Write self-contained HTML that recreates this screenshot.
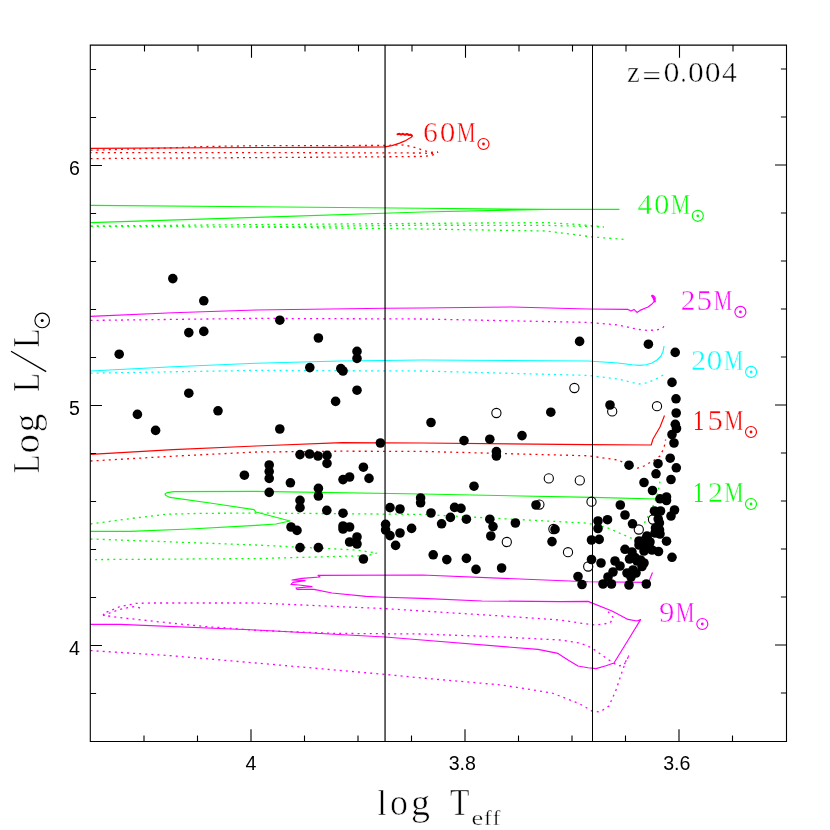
<!DOCTYPE html><html><head><meta charset="utf-8"><title>HR diagram z=0.004</title>
<style>html,body{margin:0;padding:0;background:#fff}svg{display:block;will-change:transform}text{font-family:"Liberation Serif",serif}.ss{font-family:"Liberation Sans",sans-serif}</style></head><body>
<svg width="830" height="830" viewBox="0 0 830 830">
<rect width="830" height="830" fill="#fff"/>
<g fill="none" stroke-width="1.15" stroke-linejoin="round">
<path stroke="#ff0000" d="M90.5 148.4 L256.0 147.5 L340.0 147.4 L385.0 146.9 L392.0 145.6 L399.6 143.1 L405.0 140.9 L409.0 138.5 L411.4 137.2 L412.3 136.2 L411.6 135.2 L410.0 134.6"/>
<path stroke="#00ff00" d="M90.5 205.4 L256.0 206.8 L422.0 208.2 L546.0 209.4 L619.0 209.4 L546.0 209.4 L422.0 212.0 L256.0 217.4 L90.5 222.6"/>
<path stroke="#ff00ff" d="M90.5 316.4 L173.0 312.8 L256.0 310.0 L385.0 308.2 L422.0 308.0 L512.0 307.0 L588.0 309.0 L628.0 309.4 L631.0 311.0 L634.0 309.4 L637.0 312.4 L640.0 310.4 L648.0 307.0 L652.0 304.0 L654.5 301.0 L655.3 298.0 L654.0 296.0 L652.0 295.4 L653.2 297.5 L654.4 300.0 L653.4 298.6 L652.4 296.2"/>
<path stroke="#00ffff" d="M90.5 371.0 L173.0 366.8 L256.0 363.2 L340.0 361.0 L422.0 360.0 L588.0 361.0 L618.0 363.0 L632.0 364.8 L640.0 365.4 L646.0 364.8 L652.0 363.0 L657.0 360.0 L661.0 356.0 L663.2 351.0 L664.0 346.0"/>
<path stroke="#ff0000" d="M90.5 454.4 L173.0 449.6 L256.0 446.0 L342.0 442.6 L422.0 443.0 L588.0 444.6 L651.2 445.0 L653.0 439.0 L660.0 427.0 L664.5 415.5"/>
<path stroke="#00ff00" d="M90.5 531.4 L130.0 531.4 L190.0 529.0 L256.0 525.4 L276.0 524.0 L290.0 521.0 L256.0 512.0 L254.0 509.6 L210.0 503.0 L170.0 497.4 L166.0 495.6 L165.0 494.0 L167.0 492.6 L174.0 491.6 L256.0 491.4 L422.0 494.0 L593.0 497.4 L656.0 499.0"/>
<path stroke="#ff00ff" d="M90.5 624.4 L120.0 624.4 L256.0 630.0 L385.0 637.0 L422.0 640.0 L538.0 649.4 L558.0 653.4 L568.0 660.0 L578.0 666.0 L588.0 667.8 L596.0 668.6 L606.0 665.8 L614.0 663.0 L630.0 637.0 L640.6 619.6 L637.0 621.0 L628.0 619.4 L612.0 611.0 L588.0 601.4 L560.0 601.6 L482.0 601.0 L422.0 598.4 L385.0 597.2 L366.0 596.4 L332.0 593.0 L314.0 589.4 L297.0 589.4 L296.0 588.0 L312.0 586.6 L299.0 585.0 L291.0 584.4 L293.0 582.4 L305.0 580.6 L292.0 580.0 L302.0 578.4 L320.0 577.0 L318.0 575.4 L422.0 575.0 L588.0 581.8 L648.5 582.4 L652.5 572.5"/>
</g>
<path fill="none" stroke="#ff0000" stroke-width="2.0" stroke-linejoin="round" stroke-linecap="round" d="M397.5 134.2 L399.5 133.8 L401.0 134.6 L403.0 133.8 L405.0 134.8 L407.0 134.0 L409.0 135.0 L410.5 134.6 L411.8 135.6"/>
<path fill="none" stroke="#ff00ff" stroke-width="2.2" stroke-linejoin="round" stroke-linecap="round" d="M652.3 296.0 L653.8 298.0 L654.8 301.5"/>
<g fill="none" stroke-width="1.3" stroke-dasharray="2 4.1">
<path stroke="#ff0000" d="M90.5 150.2 L150.0 148.6 L210.0 146.4 L268.0 145.6 L385.0 145.5 L401.0 144.7 L411.6 146.4 L430.0 152.4 L438.0 152.0 L432.8 153.6 L422.0 153.0 L256.0 152.6 L90.5 152.6"/>
<path stroke="#ff0000" d="M90.5 158.6 L256.0 157.6 L385.0 156.8 L424.8 156.4 L435.4 154.4 L438.0 152.0"/>
<path stroke="#00ff00" d="M90.5 226.0 L256.0 224.6 L422.0 223.4 L546.0 222.6 L580.0 224.6 L604.0 227.0 L580.0 226.2 L546.0 225.4 L422.0 225.2 L256.0 227.0 L90.5 226.4"/>
<path stroke="#00ff00" d="M256.0 227.0 L385.0 228.6 L422.0 229.0 L546.0 231.0 L593.0 237.0 L627.0 239.6"/>
<path stroke="#ff00ff" d="M90.5 320.4 L256.0 318.4 L422.0 319.0 L588.0 322.4 L618.0 325.0 L638.0 329.4 L648.0 330.4 L656.0 330.0 L661.0 329.0 L663.5 327.0 L664.2 324.4"/>
<path stroke="#00ffff" d="M90.5 373.2 L256.0 370.4 L422.0 371.0 L588.0 375.4 L618.0 379.0 L632.0 382.6 L640.0 384.0 L647.0 382.8 L654.0 380.0 L660.0 377.0 L663.0 375.0 L664.0 373.0"/>
<path stroke="#ff0000" d="M90.5 461.0 L173.0 456.2 L256.0 452.0 L342.0 451.2 L422.0 451.4 L588.0 455.8 L618.0 460.0 L630.0 465.2 L637.0 468.4 L644.0 466.0 L650.0 462.5 L656.0 459.0 L660.0 456.0 L664.0 448.0 L665.6 439.5"/>
<path stroke="#00ff00" d="M90.5 524.0 L130.0 518.6 L166.0 514.2 L200.0 513.4 L256.0 513.0 L422.0 514.4 L588.0 523.2 L608.0 528.0 L633.0 539.0"/>
<path stroke="#00ff00" d="M644.3 523.0 L646.0 520.5 L650.0 512.0 L655.0 502.0 L658.0 492.0 L660.0 481.5"/>
<path stroke="#00ff00" d="M90.5 539.0 L256.0 545.0 L356.0 550.0 L377.0 553.0 L368.0 555.6 L256.0 558.6 L90.5 559.6"/>
<path stroke="#ff00ff" d="M608.0 611.6 L613.6 618.0 L610.0 623.0 L596.0 625.0 L580.0 623.0 L560.0 620.0 L502.0 616.0 L422.0 611.0 L385.0 608.6 L256.0 603.0 L150.0 603.0 L136.0 603.4 L120.0 606.6 L103.0 613.6 L104.0 615.4 L120.0 617.6 L170.0 623.0 L210.0 627.0 L226.0 627.8 L256.0 630.4 L336.0 633.4 L422.0 634.0 L502.0 637.0 L560.0 640.0 L580.0 643.0 L592.0 648.0 L606.0 658.0 L618.0 666.0 L624.0 665.0 L629.0 655.6"/>
<path stroke="#ff00ff" d="M103.0 615.6 L112.0 612.2 L120.0 609.4 L128.0 607.6 L135.0 606.6 L140.0 608.0"/>
<path stroke="#ff00ff" d="M90.5 650.6 L170.0 655.6 L256.0 663.0 L385.0 674.4 L422.0 678.0 L502.0 685.0 L552.0 693.0 L580.0 704.0 L592.0 711.0 L600.0 712.0 L609.0 706.0 L616.0 690.0 L622.0 672.0 L627.0 658.0 L629.0 655.6"/>
</g>
<g stroke="#000" stroke-width="1.2">
<line x1="385.05" y1="45" x2="385.05" y2="741.5"/><line x1="592.5" y1="45" x2="592.5" y2="741.5" stroke-width="1"/>
</g>
<g stroke="#000" stroke-width="1.1" fill="none">
<path d="M90.3 44.6V742M786.5 44.6V742M89.8 45.1H787M89.8 741.5H787"/>
<path d="M144.0 741.5v-6.0M144.5 45.0v6.4M197.5 741.5v-6.0M198.0 45.0v6.4M251.0 741.5v-12.3M251.5 45.0v12.7M304.5 741.5v-6.0M305.0 45.0v6.4M358.0 741.5v-6.0M358.5 45.0v6.4M411.5 741.5v-6.0M412.0 45.0v6.4M465.0 741.5v-12.3M465.5 45.0v12.7M518.5 741.5v-6.0M519.0 45.0v6.4M572.0 741.5v-6.0M572.5 45.0v6.4M625.5 741.5v-6.0M626.0 45.0v6.4M679.0 741.5v-12.3M679.5 45.0v12.7M732.5 741.5v-6.0M733.0 45.0v6.4M90.5 69.5h5.6M786.5 69.0h-5.6M90.5 117.5h5.6M786.5 117.0h-5.6M90.5 165.5h11.5M786.5 165.0h-11.5M90.5 213.5h5.6M786.5 213.0h-5.6M90.5 261.5h5.6M786.5 261.0h-5.6M90.5 309.5h5.6M786.5 309.0h-5.6M90.5 357.5h5.6M786.5 357.0h-5.6M90.5 405.5h11.5M786.5 405.0h-11.5M90.5 453.5h5.6M786.5 453.0h-5.6M90.5 501.5h5.6M786.5 501.0h-5.6M90.5 549.5h5.6M786.5 549.0h-5.6M90.5 597.5h5.6M786.5 597.0h-5.6M90.5 645.5h11.5M786.5 645.0h-11.5M90.5 693.5h5.6M786.5 693.0h-5.6"/>
</g>
<g fill="none" stroke="#000" stroke-width="1.1">
<circle cx="574.4" cy="388.0" r="4.6"/>
<circle cx="496.4" cy="413.0" r="4.6"/>
<circle cx="612.2" cy="411.4" r="4.6"/>
<circle cx="657.0" cy="406.2" r="4.6"/>
<circle cx="548.8" cy="478.4" r="4.6"/>
<circle cx="579.8" cy="480.4" r="4.6"/>
<circle cx="539.4" cy="504.6" r="4.6"/>
<circle cx="553.4" cy="529.0" r="4.6"/>
<circle cx="506.8" cy="542.0" r="4.6"/>
<circle cx="568.0" cy="552.2" r="4.6"/>
<circle cx="588.2" cy="566.5" r="4.6"/>
<circle cx="591.5" cy="501.7" r="4.6"/>
<circle cx="638.8" cy="529.5" r="4.6"/>
<circle cx="653.0" cy="519.5" r="4.6"/>
</g>
<g fill="#000">
<circle cx="172.8" cy="278.6" r="4.8"/>
<circle cx="203.8" cy="300.8" r="4.8"/>
<circle cx="188.8" cy="332.6" r="4.8"/>
<circle cx="203.8" cy="331.4" r="4.8"/>
<circle cx="119.2" cy="354.2" r="4.8"/>
<circle cx="188.8" cy="393.2" r="4.8"/>
<circle cx="137.4" cy="414.4" r="4.8"/>
<circle cx="218.0" cy="410.8" r="4.8"/>
<circle cx="155.6" cy="430.4" r="4.8"/>
<circle cx="279.8" cy="320.2" r="4.8"/>
<circle cx="318.4" cy="338.0" r="4.8"/>
<circle cx="357.0" cy="351.4" r="4.8"/>
<circle cx="357.0" cy="358.4" r="4.8"/>
<circle cx="309.8" cy="367.6" r="4.8"/>
<circle cx="340.8" cy="368.6" r="4.8"/>
<circle cx="343.0" cy="371.0" r="4.8"/>
<circle cx="357.0" cy="390.2" r="4.8"/>
<circle cx="335.6" cy="401.4" r="4.8"/>
<circle cx="279.8" cy="429.0" r="4.8"/>
<circle cx="579.6" cy="341.4" r="4.8"/>
<circle cx="550.8" cy="412.2" r="4.8"/>
<circle cx="431.0" cy="422.5" r="4.8"/>
<circle cx="648.4" cy="344.2" r="4.8"/>
<circle cx="675.2" cy="352.4" r="4.8"/>
<circle cx="672.0" cy="382.4" r="4.8"/>
<circle cx="676.0" cy="398.8" r="4.8"/>
<circle cx="676.2" cy="413.0" r="4.8"/>
<circle cx="610.0" cy="405.0" r="4.8"/>
<circle cx="244.4" cy="475.2" r="4.8"/>
<circle cx="380.4" cy="443.0" r="4.8"/>
<circle cx="300.0" cy="454.6" r="4.8"/>
<circle cx="309.6" cy="454.0" r="4.8"/>
<circle cx="318.0" cy="456.0" r="4.8"/>
<circle cx="327.0" cy="455.4" r="4.8"/>
<circle cx="327.0" cy="463.4" r="4.8"/>
<circle cx="269.2" cy="465.0" r="4.8"/>
<circle cx="269.2" cy="471.6" r="4.8"/>
<circle cx="269.2" cy="478.4" r="4.8"/>
<circle cx="269.2" cy="492.4" r="4.8"/>
<circle cx="290.4" cy="482.8" r="4.8"/>
<circle cx="318.4" cy="488.4" r="4.8"/>
<circle cx="318.4" cy="496.0" r="4.8"/>
<circle cx="363.4" cy="467.2" r="4.8"/>
<circle cx="369.0" cy="478.4" r="4.8"/>
<circle cx="343.0" cy="479.6" r="4.8"/>
<circle cx="349.6" cy="477.0" r="4.8"/>
<circle cx="300.0" cy="500.4" r="4.8"/>
<circle cx="300.0" cy="507.6" r="4.8"/>
<circle cx="326.8" cy="510.4" r="4.8"/>
<circle cx="343.0" cy="513.2" r="4.8"/>
<circle cx="291.0" cy="527.0" r="4.8"/>
<circle cx="297.0" cy="530.4" r="4.8"/>
<circle cx="343.0" cy="526.0" r="4.8"/>
<circle cx="343.0" cy="529.0" r="4.8"/>
<circle cx="349.6" cy="527.0" r="4.8"/>
<circle cx="357.0" cy="537.0" r="4.8"/>
<circle cx="349.6" cy="542.0" r="4.8"/>
<circle cx="357.0" cy="544.0" r="4.8"/>
<circle cx="300.0" cy="547.6" r="4.8"/>
<circle cx="318.4" cy="547.6" r="4.8"/>
<circle cx="363.4" cy="559.0" r="4.8"/>
<circle cx="390.0" cy="507.6" r="4.8"/>
<circle cx="400.0" cy="509.0" r="4.8"/>
<circle cx="420.6" cy="498.0" r="4.8"/>
<circle cx="420.6" cy="502.8" r="4.8"/>
<circle cx="385.6" cy="524.4" r="4.8"/>
<circle cx="385.6" cy="530.0" r="4.8"/>
<circle cx="390.0" cy="535.6" r="4.8"/>
<circle cx="400.0" cy="533.0" r="4.8"/>
<circle cx="411.6" cy="528.4" r="4.8"/>
<circle cx="395.6" cy="545.4" r="4.8"/>
<circle cx="464.0" cy="440.6" r="4.8"/>
<circle cx="489.8" cy="439.2" r="4.8"/>
<circle cx="522.0" cy="435.6" r="4.8"/>
<circle cx="496.4" cy="451.6" r="4.8"/>
<circle cx="496.4" cy="456.0" r="4.8"/>
<circle cx="474.0" cy="486.2" r="4.8"/>
<circle cx="454.6" cy="507.4" r="4.8"/>
<circle cx="461.0" cy="508.4" r="4.8"/>
<circle cx="431.0" cy="513.0" r="4.8"/>
<circle cx="450.4" cy="517.4" r="4.8"/>
<circle cx="441.6" cy="523.8" r="4.8"/>
<circle cx="466.4" cy="519.2" r="4.8"/>
<circle cx="489.8" cy="519.2" r="4.8"/>
<circle cx="493.0" cy="526.6" r="4.8"/>
<circle cx="490.8" cy="536.0" r="4.8"/>
<circle cx="515.4" cy="523.0" r="4.8"/>
<circle cx="536.0" cy="505.0" r="4.8"/>
<circle cx="555.0" cy="529.4" r="4.8"/>
<circle cx="552.0" cy="541.6" r="4.8"/>
<circle cx="433.2" cy="554.8" r="4.8"/>
<circle cx="446.8" cy="559.6" r="4.8"/>
<circle cx="466.4" cy="558.4" r="4.8"/>
<circle cx="476.0" cy="569.4" r="4.8"/>
<circle cx="501.6" cy="568.0" r="4.8"/>
<circle cx="675.3" cy="424.3" r="4.8"/>
<circle cx="676.5" cy="428.5" r="4.8"/>
<circle cx="672.0" cy="434.5" r="4.8"/>
<circle cx="674.0" cy="443.0" r="4.8"/>
<circle cx="670.2" cy="458.2" r="4.8"/>
<circle cx="676.3" cy="467.8" r="4.8"/>
<circle cx="658.0" cy="463.7" r="4.8"/>
<circle cx="629.0" cy="465.2" r="4.8"/>
<circle cx="656.0" cy="473.8" r="4.8"/>
<circle cx="671.0" cy="479.5" r="4.8"/>
<circle cx="644.0" cy="482.5" r="4.8"/>
<circle cx="652.5" cy="490.5" r="4.8"/>
<circle cx="660.0" cy="498.8" r="4.8"/>
<circle cx="666.5" cy="497.0" r="4.8"/>
<circle cx="666.5" cy="500.5" r="4.8"/>
<circle cx="620.3" cy="505.0" r="4.8"/>
<circle cx="625.0" cy="515.0" r="4.8"/>
<circle cx="632.5" cy="523.8" r="4.8"/>
<circle cx="674.5" cy="510.0" r="4.8"/>
<circle cx="671.0" cy="516.0" r="4.8"/>
<circle cx="654.5" cy="511.0" r="4.8"/>
<circle cx="660.5" cy="511.0" r="4.8"/>
<circle cx="658.2" cy="519.0" r="4.8"/>
<circle cx="659.4" cy="523.0" r="4.8"/>
<circle cx="655.5" cy="528.0" r="4.8"/>
<circle cx="659.5" cy="530.0" r="4.8"/>
<circle cx="660.0" cy="534.0" r="4.8"/>
<circle cx="655.0" cy="533.0" r="4.8"/>
<circle cx="647.0" cy="536.0" r="4.8"/>
<circle cx="666.5" cy="541.2" r="4.8"/>
<circle cx="639.0" cy="541.0" r="4.8"/>
<circle cx="645.0" cy="540.0" r="4.8"/>
<circle cx="650.0" cy="542.0" r="4.8"/>
<circle cx="639.0" cy="545.0" r="4.8"/>
<circle cx="647.0" cy="547.0" r="4.8"/>
<circle cx="644.0" cy="551.0" r="4.8"/>
<circle cx="652.0" cy="550.0" r="4.8"/>
<circle cx="658.5" cy="551.5" r="4.8"/>
<circle cx="625.0" cy="549.3" r="4.8"/>
<circle cx="632.0" cy="552.0" r="4.8"/>
<circle cx="672.0" cy="557.3" r="4.8"/>
<circle cx="591.5" cy="540.0" r="4.8"/>
<circle cx="599.2" cy="539.4" r="4.8"/>
<circle cx="598.0" cy="528.5" r="4.8"/>
<circle cx="598.0" cy="521.0" r="4.8"/>
<circle cx="607.5" cy="519.7" r="4.8"/>
<circle cx="591.5" cy="559.5" r="4.8"/>
<circle cx="601.0" cy="563.0" r="4.8"/>
<circle cx="578.0" cy="576.5" r="4.8"/>
<circle cx="582.0" cy="584.5" r="4.8"/>
<circle cx="603.0" cy="584.0" r="4.8"/>
<circle cx="611.5" cy="584.0" r="4.8"/>
<circle cx="608.0" cy="577.0" r="4.8"/>
<circle cx="613.0" cy="572.0" r="4.8"/>
<circle cx="615.0" cy="561.0" r="4.8"/>
<circle cx="620.0" cy="566.0" r="4.8"/>
<circle cx="635.0" cy="557.5" r="4.8"/>
<circle cx="640.5" cy="560.0" r="4.8"/>
<circle cx="642.0" cy="566.5" r="4.8"/>
<circle cx="629.5" cy="559.0" r="4.8"/>
<circle cx="629.0" cy="585.0" r="4.8"/>
<circle cx="646.3" cy="584.0" r="4.8"/>
<circle cx="627.0" cy="573.0" r="4.8"/>
<circle cx="631.0" cy="577.0" r="4.8"/>
<circle cx="636.0" cy="573.0" r="4.8"/>
<circle cx="633.0" cy="570.0" r="4.8"/>
<circle cx="637.0" cy="561.0" r="4.8"/>
<circle cx="644.0" cy="563.0" r="4.8"/>
<circle cx="640.0" cy="543.0" r="4.8"/>
<circle cx="647.0" cy="537.5" r="4.8"/>
<circle cx="649.0" cy="544.0" r="4.8"/>
</g>
<g class="ss" font-size="19.6" fill="#000">
<text class="ss" x="79.9" y="174.6" text-anchor="end">6</text>
<text class="ss" x="79.9" y="414.6" text-anchor="end">5</text>
<text class="ss" x="79.9" y="654.5" text-anchor="end">4</text>
<text class="ss" x="251" y="770.4" text-anchor="middle">4</text>
<text class="ss" x="462.3" y="770.4" text-anchor="middle">3.8</text>
<text class="ss" x="676.8" y="770.4" text-anchor="middle">3.6</text>
</g>
<text transform="translate(423.07 142.00) scale(1.042 1.000)" font-size="28.6" fill="#ff0000" stroke="#fff" stroke-width="0.46">6</text>
<text transform="translate(439.82 142.00) scale(1.095 1.000)" font-size="28.6" fill="#ff0000" stroke="#fff" stroke-width="0.46">0</text>
<text transform="translate(456.67 142.00) scale(0.740 1.000)" font-size="28.6" fill="#ff0000" stroke="#fff" stroke-width="0.46">M</text>
<circle cx="483.5" cy="144.0" r="5.5" fill="none" stroke="#ff0000" stroke-width="1.15"/><circle cx="483.5" cy="144.0" r="1.4" fill="#ff0000"/>
<text transform="translate(637.54 213.80) scale(1.029 1.000)" font-size="28.6" fill="#00ff00" stroke="#fff" stroke-width="0.46">4</text>
<text transform="translate(654.04 213.80) scale(1.079 1.000)" font-size="28.6" fill="#00ff00" stroke="#fff" stroke-width="0.46">0</text>
<text transform="translate(670.86 213.80) scale(0.765 1.000)" font-size="28.6" fill="#00ff00" stroke="#fff" stroke-width="0.46">M</text>
<circle cx="697.8" cy="215.8" r="5.5" fill="none" stroke="#00ff00" stroke-width="1.15"/><circle cx="697.8" cy="215.8" r="1.4" fill="#00ff00"/>
<text transform="translate(680.68 309.50) scale(1.028 1.000)" font-size="28.6" fill="#ff00ff" stroke="#fff" stroke-width="0.46">2</text>
<text transform="translate(696.43 309.50) scale(1.094 1.000)" font-size="28.6" fill="#ff00ff" stroke="#fff" stroke-width="0.46">5</text>
<text transform="translate(713.87 309.50) scale(0.732 1.000)" font-size="28.6" fill="#ff00ff" stroke="#fff" stroke-width="0.46">M</text>
<circle cx="740.4" cy="311.9" r="5.5" fill="none" stroke="#ff00ff" stroke-width="1.15"/><circle cx="740.4" cy="311.9" r="1.4" fill="#ff00ff"/>
<text transform="translate(690.97 369.80) scale(1.044 1.000)" font-size="28.6" fill="#00ffff" stroke="#fff" stroke-width="0.46">2</text>
<text transform="translate(706.51 369.80) scale(1.111 1.000)" font-size="28.6" fill="#00ffff" stroke="#fff" stroke-width="0.46">0</text>
<text transform="translate(724.06 369.80) scale(0.761 1.000)" font-size="28.6" fill="#00ffff" stroke="#fff" stroke-width="0.46">M</text>
<circle cx="751.1" cy="371.9" r="5.5" fill="none" stroke="#00ffff" stroke-width="1.15"/><circle cx="751.1" cy="371.9" r="1.4" fill="#00ffff"/>
<text transform="translate(692.97 430.00) scale(0.774 1.000)" font-size="28.6" fill="#ff0000" stroke="#fff" stroke-width="0.00">1</text>
<text transform="translate(707.56 430.00) scale(1.077 1.000)" font-size="28.6" fill="#ff0000" stroke="#fff" stroke-width="0.46">5</text>
<text transform="translate(724.36 430.00) scale(0.757 1.000)" font-size="28.6" fill="#ff0000" stroke="#fff" stroke-width="0.46">M</text>
<circle cx="751.0" cy="432.0" r="5.5" fill="none" stroke="#ff0000" stroke-width="1.15"/><circle cx="751.0" cy="432.0" r="1.4" fill="#ff0000"/>
<text transform="translate(692.97 502.00) scale(0.774 1.000)" font-size="28.6" fill="#00ff00" stroke="#fff" stroke-width="0.00">1</text>
<text transform="translate(708.07 502.00) scale(1.044 1.000)" font-size="28.6" fill="#00ff00" stroke="#fff" stroke-width="0.46">2</text>
<text transform="translate(724.36 502.00) scale(0.757 1.000)" font-size="28.6" fill="#00ff00" stroke="#fff" stroke-width="0.46">M</text>
<circle cx="751.0" cy="504.0" r="5.5" fill="none" stroke="#00ff00" stroke-width="1.15"/><circle cx="751.0" cy="504.0" r="1.4" fill="#00ff00"/>
<text transform="translate(659.04 622.00) scale(1.079 1.000)" font-size="28.6" fill="#ff00ff" stroke="#fff" stroke-width="0.46">9</text>
<text transform="translate(675.87 622.00) scale(0.736 1.000)" font-size="28.6" fill="#ff00ff" stroke="#fff" stroke-width="0.46">M</text>
<circle cx="702.3" cy="624.0" r="5.5" fill="none" stroke="#ff00ff" stroke-width="1.15"/><circle cx="702.3" cy="624.0" r="1.4" fill="#ff00ff"/>
<text transform="translate(627.05 81.90) scale(1.016 1.000)" font-size="28.6" fill="#000" stroke="#fff" stroke-width="0.46">z</text>
<text transform="translate(642.23 85.50) scale(1.171 1.000)" font-size="28.6" fill="#000" stroke="#fff" stroke-width="0.46">=</text>
<text transform="translate(663.40 81.90) scale(1.119 1.000)" font-size="28.6" fill="#000" stroke="#fff" stroke-width="0.46">0</text>
<text transform="translate(680.50 81.90) scale(0.839 1.000)" font-size="28.6" fill="#000" stroke="#fff" stroke-width="0.46">.</text>
<text transform="translate(688.01 81.90) scale(1.103 1.000)" font-size="28.6" fill="#000" stroke="#fff" stroke-width="0.46">0</text>
<text transform="translate(704.81 81.90) scale(1.111 1.000)" font-size="28.6" fill="#000" stroke="#fff" stroke-width="0.46">0</text>
<text transform="translate(721.94 81.90) scale(1.037 1.000)" font-size="28.6" fill="#000" stroke="#fff" stroke-width="0.46">4</text>
<text transform="translate(377.39 814.60) scale(0.876 0.940)" font-size="37.0" fill="#000" stroke="#fff" stroke-width="0.37">l</text>
<text transform="translate(389.98 814.60) scale(0.970 1.000)" font-size="37.0" fill="#000" stroke="#fff" stroke-width="0.59">o</text>
<text transform="translate(411.01 814.60) scale(1.026 1.000)" font-size="37.0" fill="#000" stroke="#fff" stroke-width="0.59">g</text>
<text transform="translate(450.10 814.60) scale(0.860 1.000)" font-size="37.0" fill="#000" stroke="#fff" stroke-width="0.59">T</text>
<text transform="translate(471.58 825.00) scale(1.256 1.000)" font-size="21.0" fill="#000" stroke="#fff" stroke-width="0.34">e</text>
<text transform="translate(484.03 825.00) scale(1.132 1.000)" font-size="21.0" fill="#000" stroke="#fff" stroke-width="0.34">f</text>
<text transform="translate(492.43 825.00) scale(1.132 1.000)" font-size="21.0" fill="#000" stroke="#fff" stroke-width="0.34">f</text>
<g transform="translate(39.2 473) rotate(-90)">
<text transform="translate(-0.28 0.00) scale(0.830 1.000)" font-size="37.0" fill="#000" stroke="#fff" stroke-width="0.59">L</text>
<text transform="translate(19.39 0.00) scale(1.050 1.000)" font-size="37.0" fill="#000" stroke="#fff" stroke-width="0.59">o</text>
<text transform="translate(40.74 0.00) scale(1.002 1.000)" font-size="37.0" fill="#000" stroke="#fff" stroke-width="0.59">g</text>
<text transform="translate(81.01 0.00) scale(0.850 1.000)" font-size="37.0" fill="#000" stroke="#fff" stroke-width="0.59">L</text>
<text transform="translate(125.30 0.00) scale(0.860 1.000)" font-size="37.0" fill="#000" stroke="#fff" stroke-width="0.59">L</text>
<line x1="101.4" y1="7" x2="121.8" y2="-28.2" stroke="#000" stroke-width="1.3"/>
</g>
<circle cx="42.2" cy="320.4" r="7.3" fill="none" stroke="#000" stroke-width="1.10"/><circle cx="42.2" cy="320.4" r="1.5" fill="#000"/>
</svg></body></html>
